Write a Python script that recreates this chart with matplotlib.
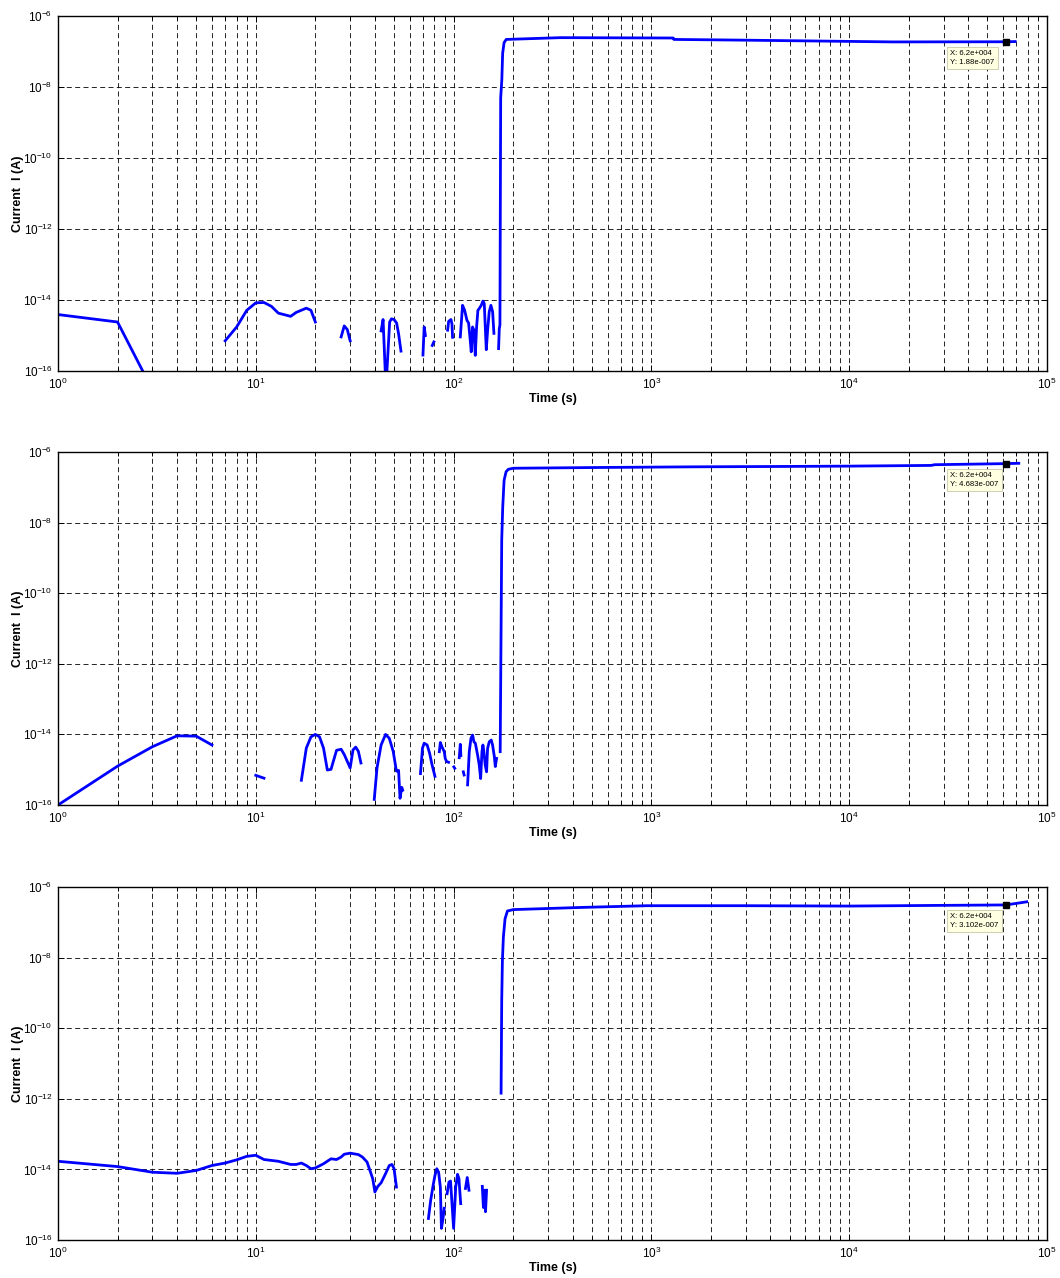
import matplotlib
matplotlib.use("Agg")
import matplotlib.pyplot as plt
import numpy as np

nan = np.nan

# panel 1 (time in s, log10 of current in A), nan splits the trace
t1 = [1, 2, 3, nan,
      7, 8, 9, 10, 11, 12, 13, 15, 16, 18, 19, 20, nan,
      27, 28, 29, 30, nan,
      43, 44, 45.5, 47.5, 48.5, 50, 51.5, 52.7, 54.2, nan,
      70, 71, 72, nan,
      78, 79.5, nan,
      93.3, 94.4, 97, 98.1, 98.8, nan,
      108.1, 111, 113.7, 116.8, 119.1, 121.4, 122.8, 124.7, 126.7, 128.7, 130.7, 132.7,
      134.8, 138, 140.7, 142.9, 144.6, 146.3, 148.6, 151.4, 154.4, 157.5, 159.9, nan,
      168.8, 170.2, 171.5, 173, 175.3, 177, 180, 184.5, 347, 1290, 1300, 2880, 8300,
      16600, 62000, 69000]
log_i1 = [-14.41, -14.62, -16.53, nan,
          -15.15, -14.76, -14.29, -14.08, -14.07, -14.18, -14.37, -14.46, -14.35, -14.23, -14.29, -14.62, nan,
          -15.04, -14.73, -14.83, -15.15, nan,
          -14.87, -14.55, -16.5, -14.62, -14.53, -14.55, -14.65, -14.95, -15.44, nan,
          -15.55, -14.76, -15.0, nan,
          -15.28, -15.18, nan,
          -14.85, -14.6, -14.55, -14.67, -15.05, nan,
          -15.04, -14.15, -14.29, -14.57, -14.65, -15.14, -15.46, -14.76, -14.85, -15.56, -14.76, -14.29,
          -14.24, -14.15, -14.03, -14.10, -14.76, -15.4, -14.85, -14.33, -14.15, -14.33, -14.94, nan,
          -15.37, -14.81, -14.7, -8.3, -7.8, -7.05, -6.75, -6.66, -6.61, -6.62, -6.66, -6.68, -6.71,
          -6.73, -6.726, -6.72]

# panel 2
t2 = [1, 2, 3, 4, 5, 6, nan,
      10, 11, nan,
      17, 18, 19, 20, 21, 22, 23, 24, 25.6, 27, 28, 30, 31, 32, 33, 34, nan,
      39.7, 41, 43, 45.3, 47.3, 49.5, 51.4, 52.7, 53.6, 54.7, 55.3, nan,
      68, 69.6, 71, 73.5, 75.6, 77.8, 80.5, nan,
      84.7, 85.7, 87.3, 89.7, 90.7, 92.2, 94.3, nan,
      100.3, 101.3, nan,
      106.8, 108.1, 108.8, nan,
      112, 113, nan,
      117.7, 120, 122.4, 124.8, 126.7, 128.8, 132.2, 134.8, 137, 139.1, 140.7, 142.3,
      144.5, 146.8, 148.5, 151.4, 155, 157.4, 160.6, 162.5, 164.9, nan,
      172, 175.1, 177.2, 180, 184.2, 189, 200, 509, 1630, 4460, 10000, 26000, 27000,
      62000, 72000]
log_i2 = [-16, -14.9, -14.35, -14.04, -14.05, -14.3, nan,
          -15.16, -15.24, nan,
          -15.3, -14.39, -14.07, -14.0, -14.07, -14.39, -15.01, -14.99, -14.45, -14.42, -14.57, -14.95,
          -14.44, -14.36, -14.48, -14.81, nan,
          -15.84, -14.95, -14.3, -14.0, -14.11, -14.48, -15.04, -15.02, -15.81, -15.5, -15.58, nan,
          -15.11, -14.39, -14.25, -14.3, -14.53, -14.86, -15.19, nan,
          -14.49, -14.23, -14.35, -14.49, -14.68, -14.77, -14.79, nan,
          -14.92, -14.96, nan,
          -14.66, -14.28, -14.6, nan,
          -15.06, -15.15, nan,
          -15.43, -14.49, -14.11, -14.02, -14.21, -14.25, -14.58, -14.87, -15.25, -14.49, -14.3, -14.49,
          -14.87, -15.06, -14.4, -14.21, -14.16, -14.3, -14.62, -14.91, -14.68, nan,
          -14.49, -8.49, -7.55, -6.80, -6.56, -6.49, -6.46, -6.44, -6.42, -6.41, -6.40, -6.38, -6.36,
          -6.329, -6.32]

# panel 3
t3 = [1, 2, 3, 4, 5, 6, 7, 8, 9, 10, 11, 13, 15, 16, 17, 18, 19, 20, 22, 24, 25.6, 27, 28, 30,
      33, 34.6, 36.5, 39, 40, 41.4, 43, 45.3, 47.3, 48.8, 50, 51.4, nan,
      74.6, 76.6, 78.8, 80.5, 82.2, 84, 85.7, 86.8, 88.2, 89.7, nan,
      92.7, 94.7, 96.5, 100, 102.5, 104.7, 106.4, 108.6, nan,
      114.8, 117.2, 119.6, nan,
      139.7, 141.5, 143.3, 145, 146.8, nan,
      173.8, 175.1, 176.5, 178.5, 182, 187.1, 200.5, 436, 947, 3030, 10000, 30000, 62000, 79000]
log_i3 = [-13.77, -13.92, -14.08, -14.11, -14.03, -13.89, -13.82, -13.73, -13.63, -13.60,
          -13.72, -13.77, -13.86, -13.86, -13.82, -13.89, -13.98, -13.96,
          -13.84, -13.70, -13.72, -13.65, -13.57, -13.54,
          -13.58, -13.65, -13.79, -14.26, -14.64, -14.48,
          -14.38, -14.12, -13.89, -13.86, -13.98, -14.5, nan,
          -15.39, -14.87, -14.45, -14.17, -13.98, -14.08, -14.5, -15.67, -15.43, -15.1, nan,
          -14.69, -14.36, -14.33, -15.67, -14.5, -14.14, -14.26, -14.97, nan,
          -14.54, -14.23, -14.59, nan,
          -14.48, -15.08, -14.59, -15.2, -14.59, nan,
          -11.84, -9.21, -8.08, -7.42, -6.90, -6.68, -6.64, -6.58, -6.53, -6.53, -6.54, -6.52,
          -6.508, -6.42]

# data tips
tip_x = 6.2e4
tip_y = [1.88e-7, 4.683e-7, 3.102e-7]
tip_text = ["X: 6.2e+004\nY: 1.88e-007",
            "X: 6.2e+004\nY: 4.683e-007",
            "X: 6.2e+004\nY: 3.102e-007"]

plt.rcParams['font.family'] = ['Liberation Sans', 'DejaVu Sans']
plt.rcParams['axes.unicode_minus'] = False

W, H = 1060, 1278
fig = plt.figure(figsize=(W / 100, H / 100), dpi=100)

# axes boxes in pixels: (top, bottom)
boxes = [(16, 371), (452, 805), (887, 1240)]
left, right = 58, 1047

series = [(t1, log_i1), (t2, log_i2), (t3, log_i3)]

for k in range(3):
    top, bot = boxes[k]
    ax = fig.add_axes([left / W, 1 - bot / H, (right - left) / W, (bot - top) / H])
    t, li = series[k]
    ax.plot(np.array(t), 10 ** np.array(li), color=(0, 0, 1), lw=2.0)
    ax.set_xscale('log')
    ax.set_yscale('log')
    ax.set_xlim(1, 1e5)
    ax.set_ylim(1e-16, 1e-6)
    ax.set_yticks([1e-16, 1e-14, 1e-12, 1e-10, 1e-8, 1e-6])
    ax.yaxis.set_minor_locator(matplotlib.ticker.NullLocator())
    ax.xaxis.set_minor_locator(matplotlib.ticker.LogLocator(base=10, subs=np.arange(2, 10)))
    ax.xaxis.set_minor_formatter(matplotlib.ticker.NullFormatter())

    ax.grid(True, which='major', axis='both', color='black', ls=(0, (6, 4)), lw=0.6)
    ax.grid(True, which='minor', axis='x', color='black', ls=(0, (6, 4)), lw=0.6)
    ax.set_axisbelow(True)

    ax.tick_params(which='both', direction='in', top=True, right=True, labelsize=8.5, width=0.7)
    ax.tick_params(which='major', length=4, pad=4)
    ax.tick_params(which='minor', length=3)
    for s in ax.spines.values():
        s.set_linewidth(1.0)

    ax.set_ylabel('Current  I (A)', fontsize=9, fontweight='bold')
    ax.yaxis.set_label_coords(-0.034, 0.5)
    ax.set_xlabel('Time (s)', fontsize=9, fontweight='bold')
    ax.xaxis.set_label_coords(0.5, -0.062)

    # data tip marker + box
    ax.plot([tip_x], [tip_y[k]], marker='s', ms=4.5, mfc='black', mec='black', ls='none')
    ax.annotate(tip_text[k], xy=(tip_x, tip_y[k]), xytext=(-40, -6),
                textcoords='offset points', ha='left', va='top', fontsize=5.6,
                linespacing=1.35,
                bbox=dict(boxstyle='square,pad=0.4', fc='#ffffe1', ec='#c8c8a8', lw=0.6))

fig.savefig('out.png', dpi=100)
